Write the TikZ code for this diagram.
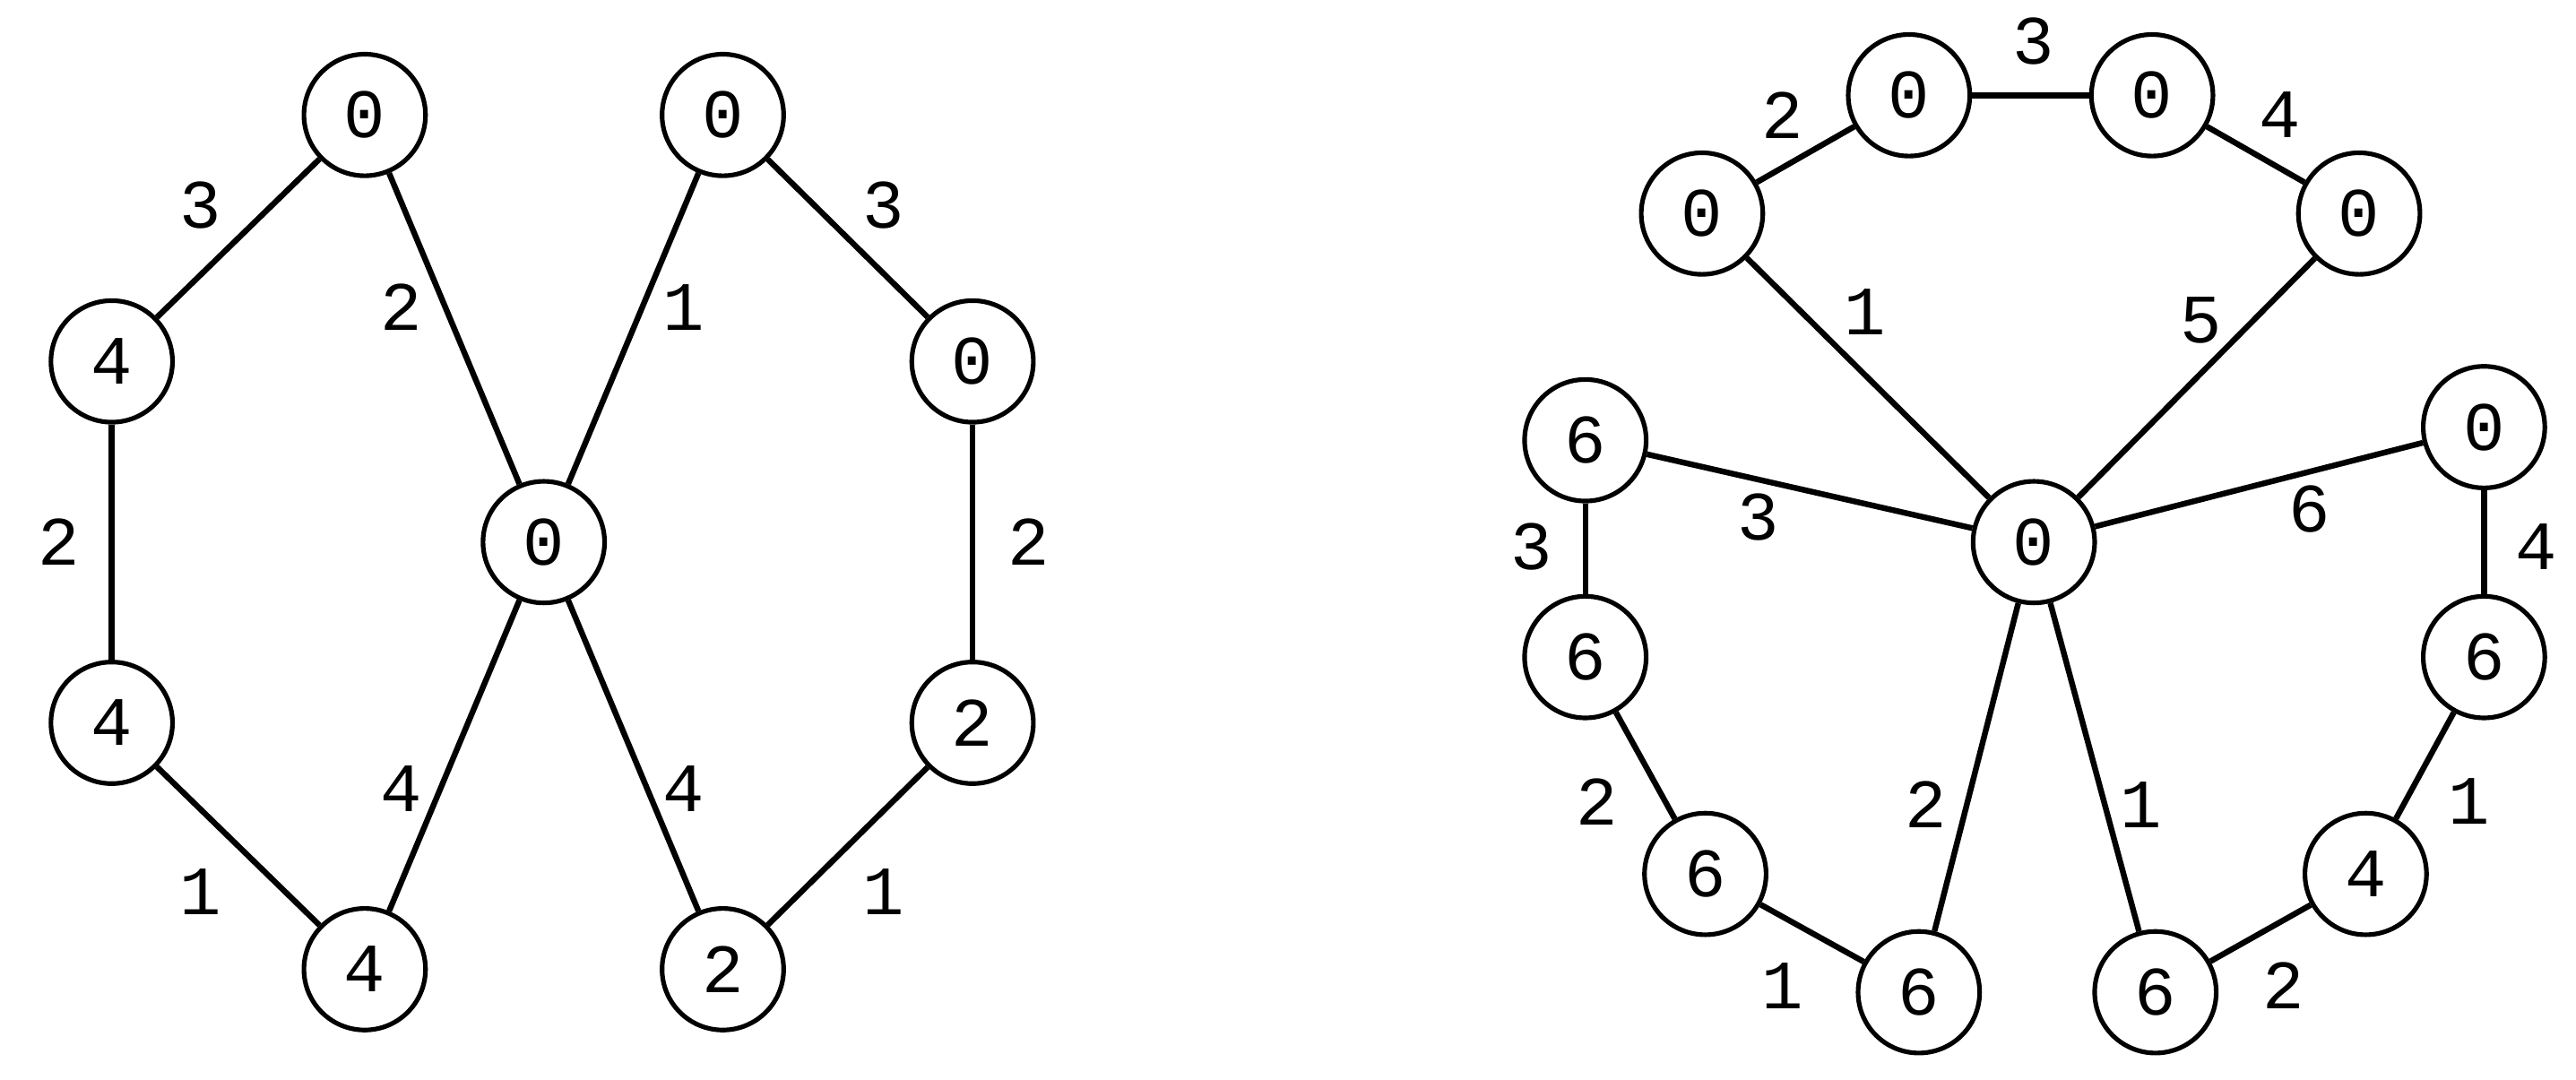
\documentclass[tikz,border=0pt]{standalone}
\usepackage{fontspec}
\setmonofont{Liberation Mono}
\begin{document}
\begin{tikzpicture}[x=0.05cm,y=-0.05cm,
  v/.style={circle,draw,line width=4pt,minimum size=3.7cm,inner sep=0pt,font=\ttfamily\fontsize{60}{60}\selectfont,fill=white},
  lb/.style={font=\ttfamily\fontsize{60}{60}\selectfont},
  e/.style={line width=5pt}]
\useasboundingbox (0,0) rectangle (1568,657);
% left graph
\node[v] (A) at (222,70) {0};
\node[v] (B) at (440,70) {0};
\node[v] (C) at (68,220) {4};
\node[v] (D) at (592,220) {0};
\node[v] (E) at (331,330) {0};
\node[v] (F) at (68,440) {4};
\node[v] (G) at (592,440) {2};
\node[v] (H) at (222,590) {4};
\node[v] (I) at (440,590) {2};
\begin{scope}[on background layer/.style={}]
\draw[e] (A)--(C); \draw[e] (A)--(E); \draw[e] (B)--(E); \draw[e] (B)--(D);
\draw[e] (C)--(F); \draw[e] (D)--(G); \draw[e] (F)--(H); \draw[e] (E)--(H);
\draw[e] (E)--(I); \draw[e] (G)--(I);
\end{scope}
\node[lb] at (122,125) {3}; \node[lb] at (244,187) {2}; \node[lb] at (416,187) {1};
\node[lb] at (538,125) {3}; \node[lb] at (36,330) {2}; \node[lb] at (626,330) {2};
\node[lb] at (122,543) {1}; \node[lb] at (244,480) {4}; \node[lb] at (416,480) {4};
\node[lb] at (538,543) {1};
% right graph
\node[v] (O) at (1238,330) {0};
\node[v] (a) at (1036,130) {0};
\node[v] (b) at (1162,58) {0};
\node[v] (c) at (1310,58) {0};
\node[v] (d) at (1436,130) {0};
\node[v] (ee) at (965,268) {6};
\node[v] (f) at (965,400) {6};
\node[v] (g) at (1038,532) {6};
\node[v] (h) at (1168,604) {6};
\node[v] (i) at (1512,260) {0};
\node[v] (j) at (1512,400) {6};
\node[v] (k) at (1440,532) {4};
\node[v] (l) at (1312,604) {6};
\foreach \p/\q in {a/b,b/c,c/d,O/a,O/d,O/ee,ee/f,f/g,g/h,O/h,O/i,i/j,j/k,k/l,O/l}
  \draw[e] (\p)--(\q);
\node[lb] at (1085,70) {2}; \node[lb] at (1238,25) {3}; \node[lb] at (1388,70) {4};
\node[lb] at (1135,190) {1}; \node[lb] at (1340,195) {5};
\node[lb] at (1070,315) {3}; \node[lb] at (932,333) {3}; \node[lb] at (972,488) {2};
\node[lb] at (1085,600) {1}; \node[lb] at (1172,490) {2};
\node[lb] at (1406,310) {6}; \node[lb] at (1544,333) {4}; \node[lb] at (1503,488) {1};
\node[lb] at (1390,600) {2}; \node[lb] at (1303,490) {1};
\end{tikzpicture}
\end{document}
